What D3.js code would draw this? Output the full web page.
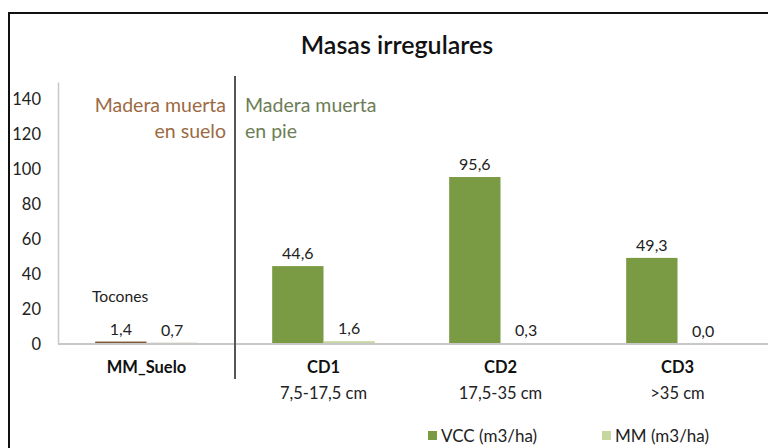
<!DOCTYPE html>
<html>
<head>
<meta charset="utf-8">
<script src="https://cdn.jsdelivr.net/npm/d3@7"></script>
<style>
  body { margin: 0; background: #fff; }
  svg { display: block; font-family: Lato, "Open Sans", sans-serif; }
</style>
</head>
<body>
<div id="chart"></div>
<script>
const categories = ["MM_Suelo", "CD1", "CD2", "CD3"];
const subLabels = ["", "7,5-17,5 cm", "17,5-35 cm", ">35 cm"];
const vcc = [1.4, 44.6, 95.6, 49.3];
const mm = [0.7, 1.6, 0.3, 0.0];
const yTicks = [0, 20, 40, 60, 80, 100, 120, 140];
const seriesNames = ["VCC (m3/ha)", "MM (m3/ha)"];

const width = 768;
const height = 448;
const marginLeft = 58;
const marginRight = 2;
const baseY = 344;
const topY = 82;

const green = "#7b9a44";
const lightGreen = "#c6d8a0";
const brown = "#7f5a3a";
const lightBrown = "#c2ab90";

const svg = d3.select("#chart")
  .append("svg")
  .attr("width", width)
  .attr("height", height)
  .attr("viewBox", [0, 0, width, height]);

// frame (cut off on the right and bottom like the picture)
svg.append("rect")
  .attr("x", 9).attr("y", 13)
  .attr("width", width + 20).attr("height", height + 20)
  .attr("fill", "none")
  .attr("stroke", "#111")
  .attr("stroke-width", 2);

svg.append("text")
  .attr("x", 397).attr("y", 54)
  .attr("text-anchor", "middle")
  .attr("font-size", 25)
  .attr("font-weight", 600)
  .attr("fill", "#111")
  .text("Masas irregulares");

const x = d3.scaleBand()
  .domain(categories)
  .range([marginLeft, width - marginRight])
  .paddingInner(0.42)
  .paddingOuter(0.21);

const y = d3.scaleLinear()
  .domain([0, 150])
  .range([baseY, topY]);

const fmt = v => d3.format(".1f")(v).replace(".", ",");

// y axis
svg.append("g")
  .attr("transform", `translate(${marginLeft},0)`)
  .call(d3.axisLeft(y).tickValues(yTicks).tickSize(0).tickPadding(17).tickSizeOuter(0))
  .call(g => g.select(".domain").attr("stroke", "#c8c8c8").attr("stroke-width", 1.5))
  .call(g => g.selectAll("text")
    .attr("font-size", 16.5)
    .attr("fill", "#222")
    .attr("font-family", "Lato, 'Open Sans', sans-serif"));

// bars
const rows = categories.map((c, i) => ({ cat: c, i, vcc: vcc[i], mm: mm[i] }));
const half = x.bandwidth() / 2;

svg.append("g")
  .selectAll("rect")
  .data(rows)
  .join("rect")
  .attr("x", d => x(d.cat))
  .attr("y", d => y(d.vcc))
  .attr("width", half)
  .attr("height", d => y(0) - y(d.vcc))
  .attr("fill", d => d.i === 0 ? brown : green);

svg.append("g")
  .selectAll("rect")
  .data(rows)
  .join("rect")
  .attr("x", d => x(d.cat) + half)
  .attr("y", d => y(d.mm))
  .attr("width", half)
  .attr("height", d => y(0) - y(d.mm))
  .attr("fill", d => d.i === 0 ? lightBrown : lightGreen);

// baseline
svg.append("line")
  .attr("x1", marginLeft).attr("x2", width)
  .attr("y1", y(0)).attr("y2", y(0))
  .attr("stroke", "#c8c8c8")
  .attr("stroke-width", 2);

// value labels
const labels = svg.append("g")
  .attr("font-size", 16)
  .attr("fill", "#222")
  .attr("text-anchor", "middle");

labels.selectAll(".lv")
  .data(rows)
  .join("text")
  .attr("class", "lv")
  .attr("x", d => x(d.cat) + half / 2)
  .attr("y", d => y(d.vcc) - 7)
  .text(d => fmt(d.vcc));

labels.selectAll(".lm")
  .data(rows)
  .join("text")
  .attr("class", "lm")
  .attr("x", d => x(d.cat) + half * 1.5)
  .attr("y", d => y(d.mm) - 7)
  .text(d => fmt(d.mm));

// category labels
svg.append("g")
  .selectAll("text")
  .data(categories)
  .join("text")
  .attr("x", d => x(d) + half)
  .attr("y", 373)
  .attr("text-anchor", "middle")
  .attr("font-size", 16.5)
  .attr("font-weight", 700)
  .attr("fill", "#111")
  .text(d => d);

svg.append("g")
  .selectAll("text")
  .data(categories)
  .join("text")
  .attr("x", d => x(d) + half)
  .attr("y", 399)
  .attr("text-anchor", "middle")
  .attr("font-size", 16.5)
  .attr("fill", "#222")
  .text((d, i) => subLabels[i]);

// divider between ground and standing dead wood
const divX = (x("MM_Suelo") + x.bandwidth() + x("CD1")) / 2;
svg.append("line")
  .attr("x1", divX).attr("x2", divX)
  .attr("y1", 76).attr("y2", 379)
  .attr("stroke", "#555")
  .attr("stroke-width", 2);

svg.append("text")
  .attr("x", divX - 9).attr("y", 112)
  .attr("text-anchor", "end")
  .attr("font-size", 19.5)
  .attr("fill", "#9c6a43")
  .call(t => t.append("tspan").attr("x", divX - 9).text("Madera muerta"))
  .call(t => t.append("tspan").attr("x", divX - 9).attr("dy", 26).text("en suelo"));

svg.append("text")
  .attr("x", divX + 10).attr("y", 112)
  .attr("text-anchor", "start")
  .attr("font-size", 19.5)
  .attr("fill", "#6c7d55")
  .call(t => t.append("tspan").attr("x", divX + 10).text("Madera muerta"))
  .call(t => t.append("tspan").attr("x", divX + 10).attr("dy", 26).text("en pie"));

svg.append("text")
  .attr("x", 92).attr("y", 302)
  .attr("font-size", 15.7)
  .attr("fill", "#222")
  .text("Tocones");

// legend
const legend = svg.append("g")
  .attr("font-size", 17)
  .attr("fill", "#222");

const legendX = [428, 602];
const legendColors = [green, lightGreen];
seriesNames.forEach((name, i) => {
  legend.append("rect")
    .attr("x", legendX[i]).attr("y", 431)
    .attr("width", 9).attr("height", 9)
    .attr("fill", legendColors[i]);
  legend.append("text")
    .attr("x", legendX[i] + 13).attr("y", 442)
    .text(name);
});
</script>
</body>
</html>
